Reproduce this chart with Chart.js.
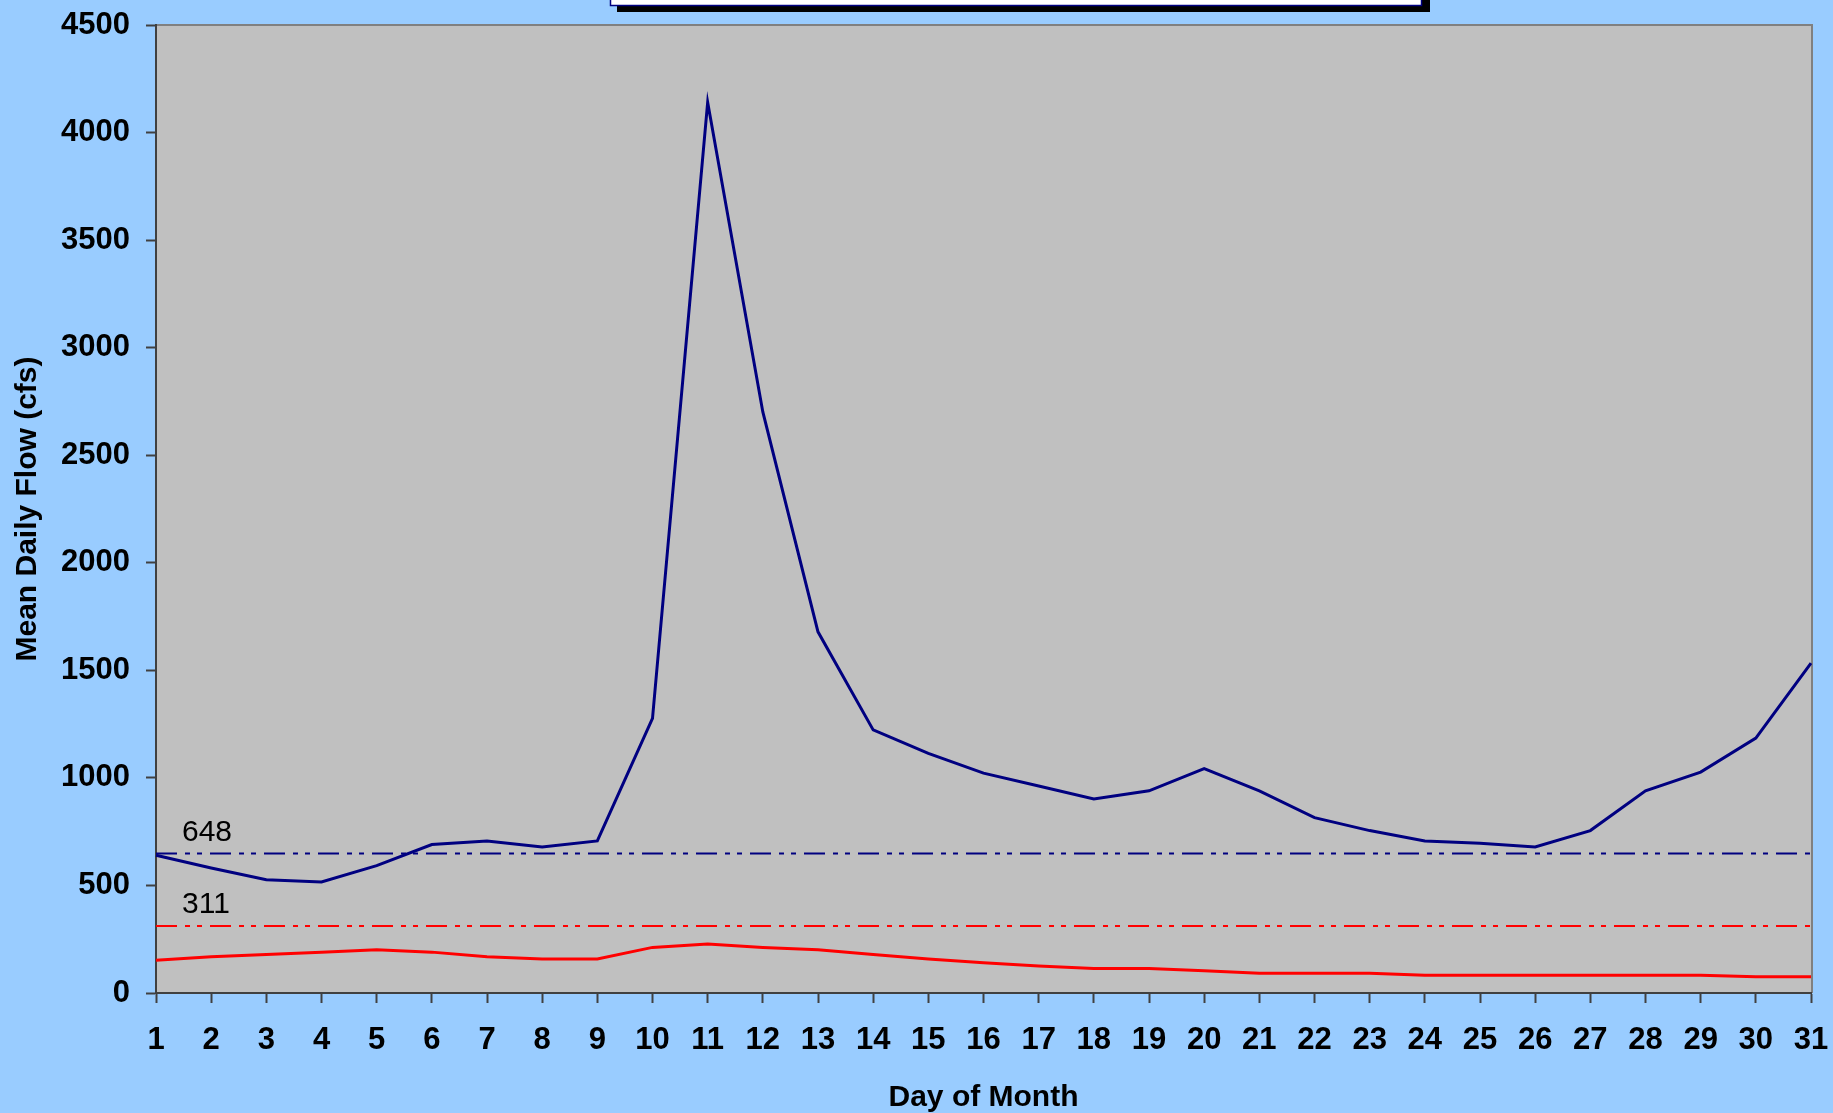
<!DOCTYPE html>
<html>
<head>
<meta charset="utf-8">
<script src="https://cdn.jsdelivr.net/npm/chart.js@4"></script>
<style>
  html, body { margin: 0; padding: 0; background: #99ccff; }
  #wrap { width: 1833px; height: 1113px; position: relative; }
</style>
</head>
<body>
<div id="wrap"><canvas id="flow-chart"></canvas></div>
<script>
const days = ['1','2','3','4','5','6','7','8','9','10','11','12','13','14','15','16','17','18','19','20','21','22','23','24','25','26','27','28','29','30','31'];

const maxFlow = [640, 581, 527, 516, 592, 690, 707, 679, 707, 1277, 4141, 2701, 1679, 1223, 1114, 1022, 962, 902, 940, 1043, 940, 815, 755, 707, 696, 679, 755, 940, 1027, 1185, 1533];

const minFlow = [152, 168, 179, 190, 201, 190, 168, 158, 158, 212, 228, 212, 201, 179, 158, 141, 125, 114, 114, 103, 92, 92, 92, 82, 82, 82, 82, 82, 82, 76, 76];

const upperRef = 648;
const lowerRef = 311;

const yTicks = [0, 500, 1000, 1500, 2000, 2500, 3000, 3500, 4000, 4500];

const axisColor = '#404040';
const refDash = [21, 8, 5, 7, 5, 8];

// plot background + grey frame on top/right
const plotFrame = {
  id: 'plotFrame',
  beforeDraw(chart) {
    const { ctx, chartArea: a } = chart;
    ctx.save();
    ctx.fillStyle = '#c0c0c0';
    ctx.fillRect(a.left, a.top, a.right - a.left, a.bottom - a.top);
    ctx.strokeStyle = '#808080';
    ctx.lineWidth = 2;
    ctx.beginPath();
    ctx.moveTo(a.left, a.top);
    ctx.lineTo(a.right + 1, a.top);
    ctx.lineTo(a.right + 1, a.bottom);
    ctx.stroke();
    ctx.restore();
  },
  afterDraw(chart) {
    const { ctx, scales } = chart;
    const x0 = scales.x.getPixelForValue(0);
    ctx.save();
    ctx.font = '30px "Liberation Sans", Arial, sans-serif';
    ctx.fillStyle = '#000';
    ctx.textBaseline = 'alphabetic';
    ctx.fillText(String(upperRef), x0 + 26, scales.y.getPixelForValue(upperRef) - 13);
    ctx.fillText(String(lowerRef), x0 + 26, scales.y.getPixelForValue(lowerRef) - 13);

    // title box, cut off at the top of the page
    ctx.fillStyle = '#000';
    ctx.fillRect(617, -10, 813, 22);
    ctx.fillStyle = '#fff';
    ctx.fillRect(610, -10, 812, 15);
    ctx.strokeStyle = '#000080';
    ctx.lineWidth = 1.5;
    ctx.strokeRect(610.5, -10, 811, 15.5);
    ctx.restore();
  }
};

const tickFont = { family: '"Liberation Sans", Arial, sans-serif', size: 31, weight: 'bold' };
const titleFont = { family: '"Liberation Sans", Arial, sans-serif', size: 30, weight: 'bold' };

new Chart(document.getElementById('flow-chart'), {
  type: 'line',
  data: {
    labels: days,
    datasets: [
      {
        label: 'Max',
        data: maxFlow,
        borderColor: '#000080',
        borderWidth: 3,
        pointRadius: 0,
        tension: 0
      },
      {
        label: 'Min',
        data: minFlow,
        borderColor: '#ff0000',
        borderWidth: 3,
        pointRadius: 0,
        tension: 0
      },
      {
        label: 'Upper',
        data: days.map(() => upperRef),
        borderColor: '#000080',
        borderWidth: 2,
        borderDash: refDash,
        pointRadius: 0
      },
      {
        label: 'Lower',
        data: days.map(() => lowerRef),
        borderColor: '#ff0000',
        borderWidth: 2,
        borderDash: refDash,
        pointRadius: 0
      }
    ]
  },
  options: {
    responsive: true,
    maintainAspectRatio: false,
    animation: false,
    layout: { padding: { top: 25, right: 22, left: 0, bottom: 0 } },
    plugins: {
      legend: { display: false },
      tooltip: { enabled: false }
    },
    scales: {
      x: {
        offset: false,
        grid: {
          display: true,
          drawOnChartArea: false,
          drawTicks: true,
          tickLength: 10,
          tickColor: axisColor,
          tickWidth: 2
        },
        border: { display: true, color: axisColor, width: 2 },
        ticks: {
          color: '#000',
          font: tickFont,
          padding: 19,
          maxRotation: 0,
          autoSkip: false
        },
        title: {
          display: true,
          text: 'Day of Month',
          color: '#000',
          font: titleFont,
          padding: { top: 0, bottom: -3 }
        },
        afterFit(scale) {
          scale.height = 120;
          scale.paddingLeft = 0;
          scale.paddingRight = 0;
        }
      },
      y: {
        min: 0,
        max: 4500,
        afterBuildTicks(scale) { scale.ticks = yTicks.map(v => ({ value: v })); },
        grid: {
          display: true,
          drawOnChartArea: false,
          drawTicks: true,
          tickLength: 10,
          tickColor: axisColor,
          tickWidth: 2
        },
        border: { display: true, color: axisColor, width: 2 },
        ticks: {
          color: '#000',
          font: tickFont,
          padding: 16,
          callback: v => String(v)
        },
        title: {
          display: true,
          text: 'Mean Daily Flow (cfs)',
          color: '#000',
          font: titleFont,
          padding: { top: 10, bottom: 0 }
        },
        afterFit(scale) {
          scale.width = 156;
          scale.paddingTop = 0;
          scale.paddingBottom = 0;
        }
      }
    }
  },
  plugins: [plotFrame]
});
</script>
</body>
</html>
